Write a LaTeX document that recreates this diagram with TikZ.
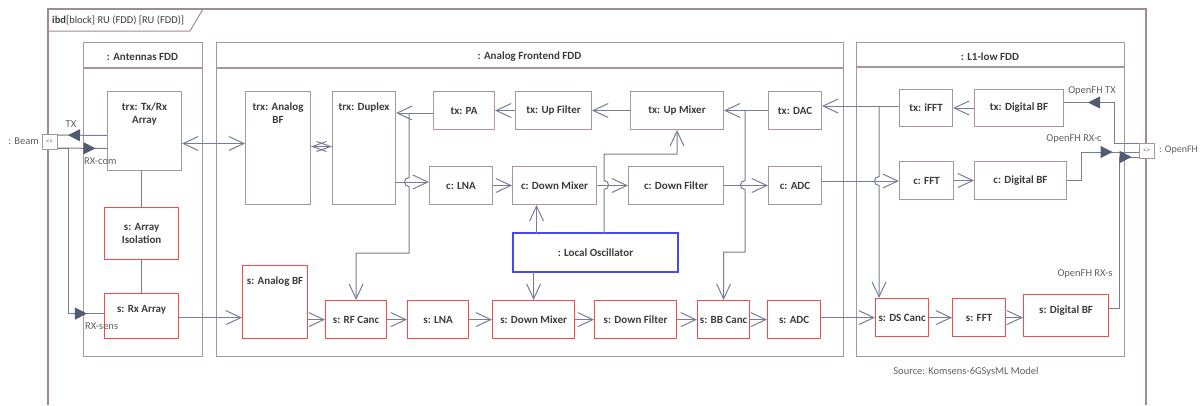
\documentclass[tikz,border=0pt]{standalone}
\usepackage{fontspec}
\setmainfont{Carlito}
\usetikzlibrary{arrows.meta,decorations.markings}
\definecolor{wirec}{RGB}{118,126,150}
\definecolor{flowc}{RGB}{82,90,116}
\definecolor{partc}{RGB}{170,150,150}
\definecolor{framec}{RGB}{160,140,140}
\definecolor{sensc}{RGB}{250,72,72}
\definecolor{oscc}{RGB}{70,70,250}
\definecolor{textc}{RGB}{60,60,60}
\definecolor{notec}{RGB}{96,96,96}

\begin{document}
\begin{tikzpicture}[x=1pt,y=-1pt,
  part/.style={draw=partc,line width=1pt,fill=white,inner sep=0pt,anchor=north west,
    font=\fontsize{11}{13}\selectfont\bfseries,text=textc,align=center},
  sens/.style={part,draw=sensc,line width=1.2pt},
  block/.style={draw=partc,line width=1.1pt,anchor=north west,inner sep=0pt},
  title/.style={font=\fontsize{11}{13}\selectfont\bfseries,text=textc},
  toptext/.style={anchor=north,inner sep=0pt,font=\fontsize{11}{13}\selectfont\bfseries,text=textc,align=center},
  note/.style={font=\fontsize{10.5}{12}\selectfont,text=notec,inner sep=0pt},
  port/.style={draw=partc,line width=1pt,fill=white,minimum size=15pt,inner sep=0pt,
    font=\fontsize{7}{8}\selectfont,text=notec},
  wire/.style={draw=wirec,line width=1pt},
  conn/.style={wire,-{Straight Barb[length=15pt,width=14pt]}},
  biconn/.style={wire,{Straight Barb[length=15pt,width=14pt]}-{Straight Barb[length=15pt,width=14pt]}},
  flow/.style={wire,postaction={decorate},decoration={markings,
    mark=at position #1 with {\arrow{Triangle[length=12pt,width=12pt,color=flowc]}}}}
]
      \fill[white] (0,0) rectangle (1204,405);
      \useasboundingbox (0,0) rectangle (1204,405);
      % Drawing frame
      \draw[draw=framec,line width=1.5pt] (48,405) -- (48,9) -- (1146,9) -- (1146,405);
      \draw[draw=framec,line width=1pt] (48,31) -- (190,31) -- (203,9);
      \node[note,anchor=west,text=textc] (ibd) at (52,20) {\textbf{ibd}[block] RU (FDD) [RU (FDD)]};
      % Drawing parts
      \node[block,minimum width=119pt,minimum height=314pt] (ant) at (83,42) {};
      \draw[draw=partc,line width=1.1pt] ([yshift=-26pt]ant.north west) -- ([yshift=-26pt]ant.north east);
      \node[title] (antt) at (142.5,57) {: Antennas FDD};
      \node[block,minimum width=627pt,minimum height=314pt] (afe) at (216,42) {};
      \draw[draw=partc,line width=1.1pt] ([yshift=-26pt]afe.north west) -- ([yshift=-26pt]afe.north east);
      \node[title] (afet) at (529.5,57) {: Analog Frontend FDD};
      \node[block,minimum width=268pt,minimum height=314pt] (l1) at (856,42) {};
      \draw[draw=partc,line width=1.1pt] ([yshift=-25pt]l1.north west) -- ([yshift=-25pt]l1.north east);
      \node[title] (l1t) at (990,57) {: L1-low FDD};
      % Drawing ports
      \node[port] (beam) at (49.5,141.5) {<>};
      \node[note,anchor=east] (beaml) at (39,141) {: Beam};
      \node[port] (ofh) at (1146.5,150.5) {<>};
      \node[note,anchor=west,font=\fontsize{10}{12}\selectfont] (ofhl) at (1159,150) {: OpenFH};
      % Antennas FDD
      \node[part,minimum width=74pt,minimum height=79pt] (txrx) at (107,91) {};
      \node[toptext] (txrxt) at ([yshift=-12pt]txrx.north) {trx: Tx/Rx\\Array};
      \node[sens,minimum width=74pt,minimum height=52pt] (iso) at (104,207) {s: Array\\Isolation};
      \node[sens,minimum width=74pt,minimum height=45pt] (srx) at (104,293) {};
      \node[toptext] (srxt) at ([yshift=-12pt]srx.north) {s: Rx Array};
      % Analog Frontend FDD
      \node[part,minimum width=65pt,minimum height=113pt] (abf) at (245,91) {};
      \node[toptext] (abft) at ([yshift=-12pt]abf.north) {trx: Analog\\BF};
      \node[part,minimum width=63pt,minimum height=113pt] (dup) at (332,91) {};
      \node[toptext] (dupt) at ([yshift=-12pt]dup.north) {trx: Duplex};
      \node[part,minimum width=61pt,minimum height=38pt] (pa) at (433,91) {tx: PA};
      \node[part,minimum width=76pt,minimum height=38pt] (upf) at (515,91) {tx: Up Filter};
      \node[part,minimum width=93pt,minimum height=38pt] (upm) at (630,91) {tx: Up Mixer};
      \node[part,minimum width=53pt,minimum height=38pt] (dac) at (768,91) {tx: DAC};
      \node[part,minimum width=63pt,minimum height=38pt] (clna) at (429,166) {c: LNA};
      \node[part,minimum width=84pt,minimum height=38pt] (cdm) at (512,166) {c: Down Mixer};
      \node[part,minimum width=95pt,minimum height=38pt] (cdf) at (628,166) {c: Down Filter};
      \node[part,minimum width=53pt,minimum height=38pt] (cadc) at (768,166) {c: ADC};
      \node[part,draw=none,minimum width=164pt,minimum height=38pt] (lo) at (513,233) {: Local Oscillator};
      \draw[color=oscc,line width=1.3pt] (lo.north west) rectangle (lo.south east);
      \node[sens,minimum width=65pt,minimum height=73pt] (sabf) at (242,265) {};
      \node[toptext] (sabft) at ([yshift=-12pt]sabf.north) {s: Analog BF};
      \node[sens,minimum width=61pt,minimum height=38pt] (srf) at (325,300) {s: RF Canc};
      \node[sens,minimum width=61pt,minimum height=38pt] (slna) at (407,300) {s: LNA};
      \node[sens,minimum width=82pt,minimum height=38pt] (sdm) at (492,300) {s: Down Mixer};
      \node[sens,minimum width=82pt,minimum height=38pt] (sdf) at (594,300) {s: Down Filter};
      \node[sens,minimum width=52pt,minimum height=38pt] (sbb) at (697,300) {s: BB Canc};
      \node[sens,minimum width=53pt,minimum height=38pt] (sadc) at (767,300) {s: ADC};
      % L1-low FDD
      \node[part,minimum width=53pt,minimum height=37pt] (ifft) at (899,89) {tx: iFFT};
      \node[part,minimum width=89pt,minimum height=37pt] (tdbf) at (974,89) {tx: Digital BF};
      \node[part,minimum width=54pt,minimum height=38pt] (cfft) at (899,161) {c: FFT};
      \node[part,minimum width=92pt,minimum height=38pt] (cdbf) at (974,161) {c: Digital BF};
      \node[sens,minimum width=53pt,minimum height=38pt] (sds) at (875,298) {s: DS Canc};
      \node[sens,minimum width=53pt,minimum height=38pt] (sfft) at (952,298) {s: FFT};
      \node[sens,minimum width=85pt,minimum height=42pt] (sdbf) at (1023,294) {};
      \node[toptext] (sdbft) at ([yshift=-12pt]sdbf.north) {s: Digital BF};
      % Done with parts; drawing junctions and crossings
      \coordinate (jpa) at (409,113);
      \coordinate (xpa) at (409,182);
      \coordinate (xlo) at (604,185);
      \coordinate (jdac) at (745,110);
      \coordinate (xdac) at (745,185);
      \coordinate (jfft) at (879,106);
      \coordinate (xfft) at (879,181);
      % Beam flows
      \draw[flow=39pt] ([yshift=-4.5pt]txrx.west) -- ([yshift=6.5pt]beam.east);
      \draw[flow=38pt] ([yshift=-6.5pt]beam.east) -- ([yshift=-17.5pt]txrx.west);
      \draw[flow=195pt] ([yshift=-6.5pt]beam.east) -- ++(11,0) |- ([yshift=2.5pt]srx.west);
      \node[note] (txl) at (71,124) {TX};
      \node[note,anchor=west] (rxcl) at (84,161) {RX-com};
      \node[note,anchor=west] (rxsl) at (85,326) {RX-sens};
      % Antennas links
      \draw[wire] (txrx.south -| iso.north) -- (iso.north);
      \draw[wire] (iso.south) -- (srx.north);
      \draw[biconn] ([yshift=-12.5pt]txrx.east) -- ([yshift=4.5pt]abf.west);
      \draw[wire,{Straight Barb[length=14pt,width=10pt]}-{Straight Barb[length=14pt,width=10pt]}] ([yshift=1.5pt]abf.east) -- ([yshift=1.5pt]dup.west);
      % Tx chain
      \draw[conn] (dac.west) -- (upm.east);
      \draw[conn] (upm.west) -- (upf.east);
      \draw[conn] (upf.west) -- (pa.east);
      \draw[conn] (pa.west |- jpa) -- (dup.east |- jpa);
      \draw[conn] (jpa) -- ([yshift=4.5pt]xpa) to[out=180,in=180,looseness=1.7] ([yshift=-4.5pt]xpa) -- ++(0,66.5) -| (srf.north);
      % Rx chain (c)
      \draw[conn] (dup.east |- xpa) -- (clna.west |- xpa);
      \draw[conn] (clna.east) -- (cdm.west);
      \draw[conn] (cdm.east) -- (cdf.west);
      \draw[conn] (cdf.east) -- (cadc.west);
      \draw[conn] (jdac) -- ([yshift=4.5pt]xdac) to[out=180,in=180,looseness=1.7] ([yshift=-4.5pt]xdac) -- ++(0,62.5) -| (sbb.north);
      % Local oscillator
      \draw[conn] (lo.north -| xlo) -- ([yshift=-4.5pt]xlo) to[out=0,in=0,looseness=1.7] ([yshift=4.5pt]xlo) -- ++(0,-26.5) -| (upm.south);
      \draw[conn] ([xshift=-59pt]lo.north) -- ([xshift=-18pt]cdm.south);
      \draw[conn] (lo.south -| sdm.north) -- (sdm.north);
      % Sensing chain (s)
      \draw[conn] ([yshift=-1.5pt]srx.east) -- ([yshift=-15.5pt]sabf.west);
      \draw[conn] (sabf.east |- srf.west) -- (srf.west);
      \draw[conn] (srf.east) -- (slna.west);
      \draw[conn] (slna.east) -- (sdm.west);
      \draw[conn] (sdm.east) -- (sdf.west);
      \draw[conn] (sdf.east) -- (sbb.west);
      \draw[conn] (sbb.east) -- (sadc.west);
      \draw[conn] (sadc.east |- sds.west) -- (sds.west);
      \draw[conn] (sds.east) -- (sfft.west);
      \draw[conn] (sfft.east) -- (sdbf.west |- sfft.east);
      % L1-low links
      \draw[conn] (ifft.west |- jfft) -- (dac.east |- jfft);
      \draw[conn] (jfft) -- ([yshift=4.5pt]xfft) to[out=180,in=180,looseness=1.7] ([yshift=-4.5pt]xfft) -- (sds.north -| xfft);
      \draw[conn] (cadc.east |- xfft) -- (cfft.west |- xfft);
      \draw[conn] (tdbf.west) -- (ifft.east);
      \draw[conn] (cfft.east) -- (cdbf.west);
      % OpenFH flows
      \draw[flow=91pt] ([yshift=7.5pt]ofh.west) -- ++(-24,0) |- ([yshift=5.5pt]tdbf.east);
      \draw[flow=74pt] (cdbf.east) -- ++(14,0) |- ([yshift=-1.5pt]ofh.west);
      \draw[flow=174pt] ([yshift=7pt]sdbf.east) -- ++(10,0) |- ([yshift=-6.5pt]ofh.west);
      \node[note] (ofhtx) at (1092,91) {OpenFH TX};
      \node[note] (ofhrxc) at (1074,139) {OpenFH RX-c};
      \node[note] (ofhrxs) at (1085,274) {OpenFH RX-s};
      % Done with links; drawing source note
      \node[note] (src) at (966,372) {Source: Komsens-6GSysML Model};
    \end{tikzpicture}
\end{document}
